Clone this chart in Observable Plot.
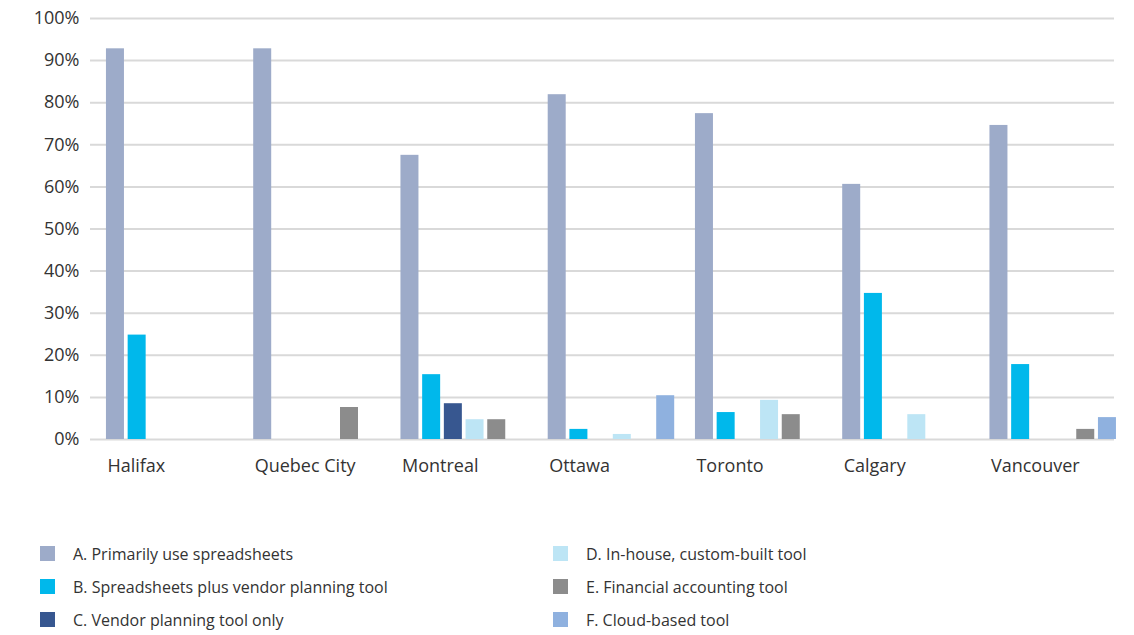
<!DOCTYPE html>
<html>
<head>
<meta charset="utf-8">
<script src="https://cdn.jsdelivr.net/npm/d3@7"></script>
<script src="https://cdn.jsdelivr.net/npm/@observablehq/plot@0.6"></script>
<style>
  body { margin: 0; background: #fff; font-family: "Open Sans", sans-serif; color: #333; }
  #chart svg { display: block; }
  .legend { display: grid; grid-template-columns: 513px 400px; padding-left: 40px; margin-top: 47px; row-gap: 0; }
  .item { display: flex; align-items: center; height: 33px; font-size: 16px; color: #333; }
  .sw { width: 15px; height: 15px; margin-right: 18px; flex: none; }
</style>
</head>
<body>
<div id="chart"></div>
<script>
const cities = ["Halifax", "Quebec City", "Montreal", "Ottawa", "Toronto", "Calgary", "Vancouver"];
const seriesNames = [
  "A. Primarily use spreadsheets",
  "B. Spreadsheets plus vendor planning tool",
  "C. Vendor planning tool only",
  "D. In-house, custom-built tool",
  "E. Financial accounting tool",
  "F. Cloud-based tool"
];
const colors = ["#9dabc9", "#00b8eb", "#375790", "#bde5f5", "#8c8c8c", "#8fb1df"];
const valuesA = [92.8, 92.8, 67.5, 81.9, 77.4, 60.6, 74.6];
const valuesB = [24.8, 0, 15.4, 2.4, 6.4, 34.7, 17.8];
const valuesC = [0, 0, 8.5, 0, 0, 0, 0];
const valuesD = [0, 0, 4.7, 1.2, 9.3, 5.9, 0];
const valuesE = [0, 7.6, 4.7, 0, 5.9, 0, 2.4];
const valuesF = [0, 0, 0, 10.4, 0, 0, 5.2];
const yTicks = [0, 10, 20, 30, 40, 50, 60, 70, 80, 90, 100];

const allValues = [valuesA, valuesB, valuesC, valuesD, valuesE, valuesF];
const data = [];
allValues.forEach((vals, si) => {
  vals.forEach((v, ci) => data.push({city: cities[ci], series: seriesNames[si], value: v}));
});

const W = 1134, H = 490;
const mL = 90, mR = 20, mT = 18, mB = 51;
const rangeX = [89, 1133];
const pad = 0.09;
const step = (rangeX[1] - rangeX[0]) / (cities.length - pad + 2 * pad);
const bw = step * (1 - pad);
const slot = 21.7, barW = 18, off = 3.7;

const barMarks = seriesNames.map((s, i) => {
  const l = off + i * slot;
  return Plot.barY(data.filter(d => d.series === s && d.value > 0), {
    x: "city", y: "value", fill: colors[i],
    insetLeft: l, insetRight: bw - l - barW
  });
});

const chart = Plot.plot({
  width: W, height: H,
  marginLeft: mL, marginRight: mR, marginTop: mT, marginBottom: mB,
  style: {fontFamily: "Open Sans, sans-serif", fontSize: "18px", color: "#333", background: "#fff"},
  x: {domain: cities, range: rangeX, padding: pad, round: false, label: null},
  y: {domain: [0, 100], label: null},
  marks: [
    Plot.ruleY(yTicks, {stroke: "#d9d9d9", strokeWidth: 2}),
    ...barMarks,
    Plot.axisY({ticks: yTicks, tickFormat: d => d + "%", tickSize: 0, tickPadding: 11, fontSize: 18, fill: "#333", label: null}),
    Plot.axisX({tickSize: 0, tickPadding: 20, textAnchor: "start", dx: -(bw / 2) + off + 1, fontSize: 18, fill: "#333", label: null})
  ]
});
document.getElementById("chart").appendChild(chart);

const legend = document.createElement("div");
legend.className = "legend";
const order = [0, 3, 1, 4, 2, 5];
order.forEach(i => {
  const item = document.createElement("div");
  item.className = "item";
  const sw = document.createElement("span");
  sw.className = "sw";
  sw.style.background = colors[i];
  const t = document.createElement("span");
  t.textContent = seriesNames[i];
  item.appendChild(sw);
  item.appendChild(t);
  legend.appendChild(item);
});
document.body.appendChild(legend);
</script>
</body>
</html>
